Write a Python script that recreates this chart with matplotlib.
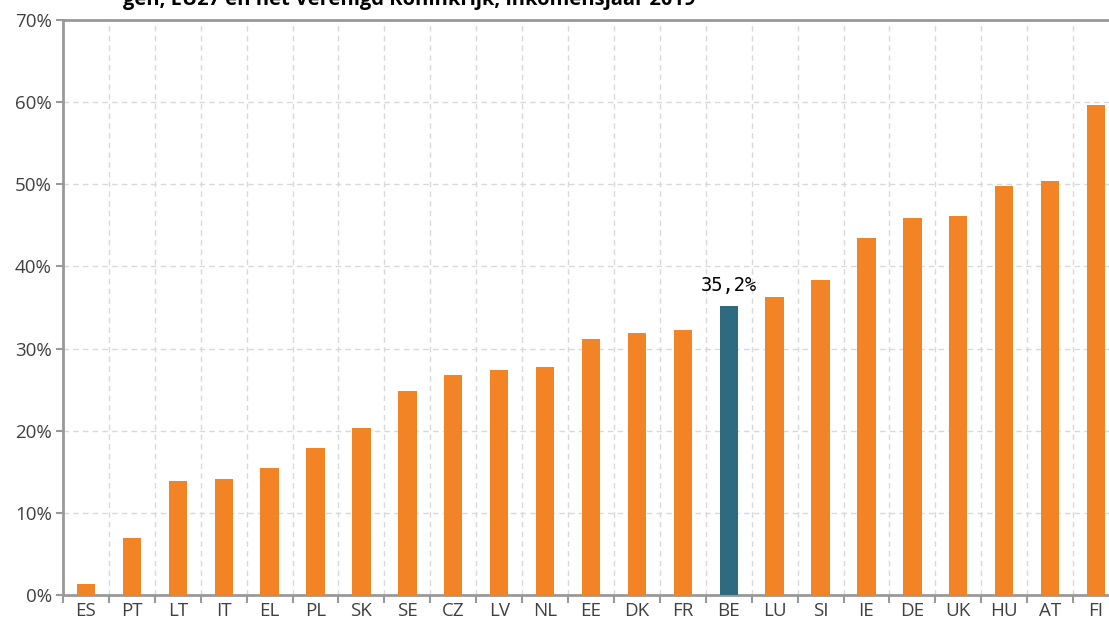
import matplotlib.pyplot as plt
import numpy as np

countries = ['ES', 'PT', 'LT', 'IT', 'EL', 'PL', 'SK', 'SE', 'CZ', 'LV', 'NL', 'EE',
             'DK', 'FR', 'BE', 'LU', 'SI', 'IE', 'DE', 'UK', 'HU', 'AT', 'FI']
values = [1.3, 7.0, 13.9, 14.1, 15.5, 17.9, 20.3, 24.8, 26.8, 27.4, 27.8, 31.2,
          31.9, 32.3, 35.2, 36.3, 38.4, 43.5, 45.9, 46.1, 49.8, 50.4, 59.6]
highlight = 'BE'
yticks = [0, 10, 20, 30, 40, 50, 60, 70]

orange = '#F28426'
blue = '#2E6B80'
grey = '#999999'

plt.rcParams['font.family'] = ['Open Sans', 'DejaVu Sans']

fig = plt.figure(figsize=(11.09, 6.21), dpi=100)
# axes runs past the right edge on purpose (the last column is cut off in the source)
ax = fig.add_axes([63 / 1109, 26 / 621, 1056 / 1109, 575 / 621])

x = np.arange(len(countries))
colors = [blue if c == highlight else orange for c in countries]
ax.bar(x, values, width=0.4, color=colors, zorder=3)

i = countries.index(highlight)
ax.text(x[i], values[i] + 1.3, f'{values[i]:.1f}%'.replace('.', ','),
        ha='center', va='bottom', fontsize=13.5, family='DejaVu Sans Mono', color='black')

ax.set_xlim(-0.5, len(countries) - 0.5)
ax.set_ylim(0, 70)
ax.set_yticks(yticks)
ax.set_yticklabels([f'{t}%' for t in yticks])

# category labels in the middle, tick marks on the boundaries
ax.set_xticks(x)
ax.set_xticklabels(countries)
ax.set_xticks(np.arange(-0.5, len(countries)), minor=True)
ax.tick_params(axis='x', which='major', length=0, pad=5, labelsize=13.5, labelcolor='#404040')
ax.tick_params(axis='x', which='minor', length=6, width=1.5, color=grey, direction='out')
ax.tick_params(axis='y', length=5, width=1.5, color=grey, pad=3, labelsize=13.5, labelcolor='#404040')

ax.grid(axis='y', which='major', color='#d9d9d9', linestyle=(0, (4, 3)), linewidth=1, zorder=0)
ax.grid(axis='x', which='minor', color='#d9d9d9', linestyle=(0, (4, 3)), linewidth=1, zorder=0)
ax.grid(axis='x', which='major', visible=False)

for side in ['left', 'bottom', 'top']:
    ax.spines[side].set_color(grey)
    ax.spines[side].set_linewidth(2)
ax.spines['right'].set_visible(False)

# title is cut off at the top of the source image
fig.text(409 / 1109, 1.0, 'gen, EU27 en het Verenigd Koninkrijk, inkomensjaar 2019',
         ha='center', va='center', fontsize=14.5, fontweight='bold', color='black')

fig.savefig('out.png', dpi=100)
